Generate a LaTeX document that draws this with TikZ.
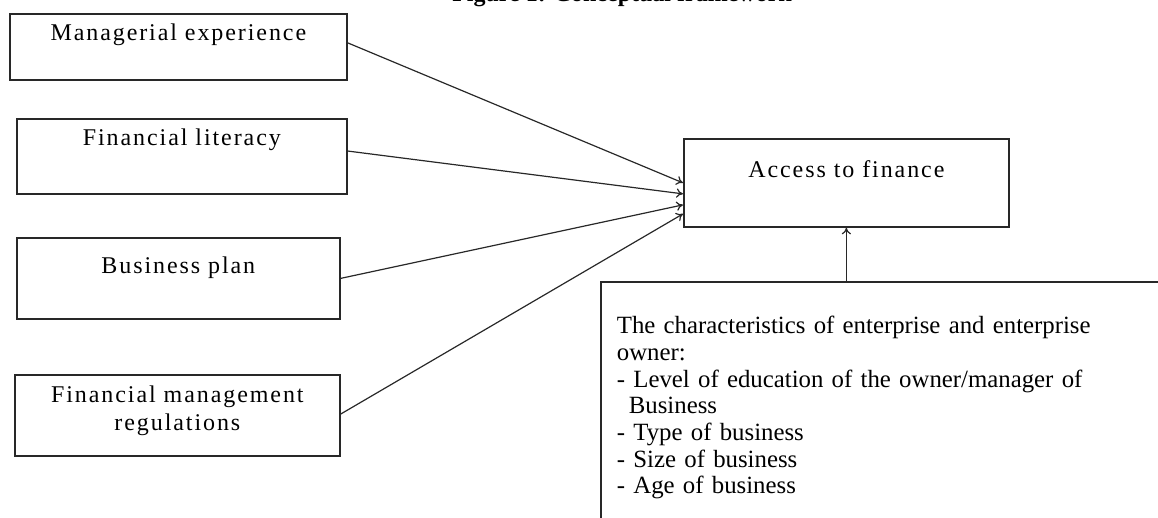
\documentclass[tikz,border=0pt]{standalone}
\usepackage{fontspec}
\usetikzlibrary{arrows.meta}
\setmainfont{Liberation Serif}
\newfontfamily\spacedserif{Liberation Serif}[LetterSpace=8]
\definecolor{frame}{RGB}{40,40,40}

\begin{document}
\begin{tikzpicture}[x=0.75pt, y=-0.75pt,
                  factor/.style={draw=frame, line width=1.3pt, inner sep=0pt, anchor=north west,
                              align=center, font=\spacedserif\fontsize{18}{21}\selectfont},
                  link/.style={draw=frame, line width=0.9pt, -{To[length=5pt,width=7pt]}}]
            \useasboundingbox (0,0) rectangle (1158,518);
            \clip (0,0) rectangle (1158,518);
            % caption, cut by the top edge
            \node[anchor=base, font=\bfseries\fontsize{18}{21}\selectfont] (caption) at (622,1.5)
                  {Figure 1: Conceptual framework};
            % factors on the left
            \node[factor, minimum width=252.75pt, text height=20.25pt, text depth=29.25pt] (manexp) at (9,13)
                  {Managerial experience};
            \node[factor, minimum width=247.5pt, text height=20.25pt, text depth=36pt] (finlit) at (16,118)
                  {Financial literacy};
            \node[factor, minimum width=242.25pt, text height=27pt, text depth=33.75pt] (bplan) at (16,237)
                  {Business plan};
            \node[factor, minimum width=243.75pt, text height=42pt, text depth=18.75pt] (fmreg) at (14,374)
                  {Financial management\\regulations};
            \node[factor, minimum width=243.75pt, text height=29.25pt, text depth=36.75pt] (access) at (683,138)
                  {Access to finance};
            % characteristics box, runs past the right and bottom edges
            \node[draw=frame, line width=1.3pt, anchor=north west, inner xsep=12pt, inner ysep=0pt,
                  text width=426pt, align=left, text height=39pt, text depth=200pt,
                  font=\fontsize{18.6}{20}\selectfont] (chars) at (600,281)
                  {The characteristics of enterprise and enterprise\\
                   owner:\\
                   - Level of education of the owner/manager of\\
                   \hspace*{9pt}Business\\
                   - Type of business\\
                   - Size of business\\
                   - Age of business};
            \draw[link] ([yshift=3pt]manexp.east) -- (access.west);
            \draw[link] ([yshift=4pt]finlit.east) -- ([yshift=-8.25pt]access.west);
            \draw[link] (bplan.east) -- ([yshift=-16.5pt]access.west);
            \draw[link] ([yshift=1pt]fmreg.east) -- ([yshift=-23.25pt]access.west);
            \draw[link] (access.south |- chars.north) -- (access.south);
      \end{tikzpicture}
\end{document}
